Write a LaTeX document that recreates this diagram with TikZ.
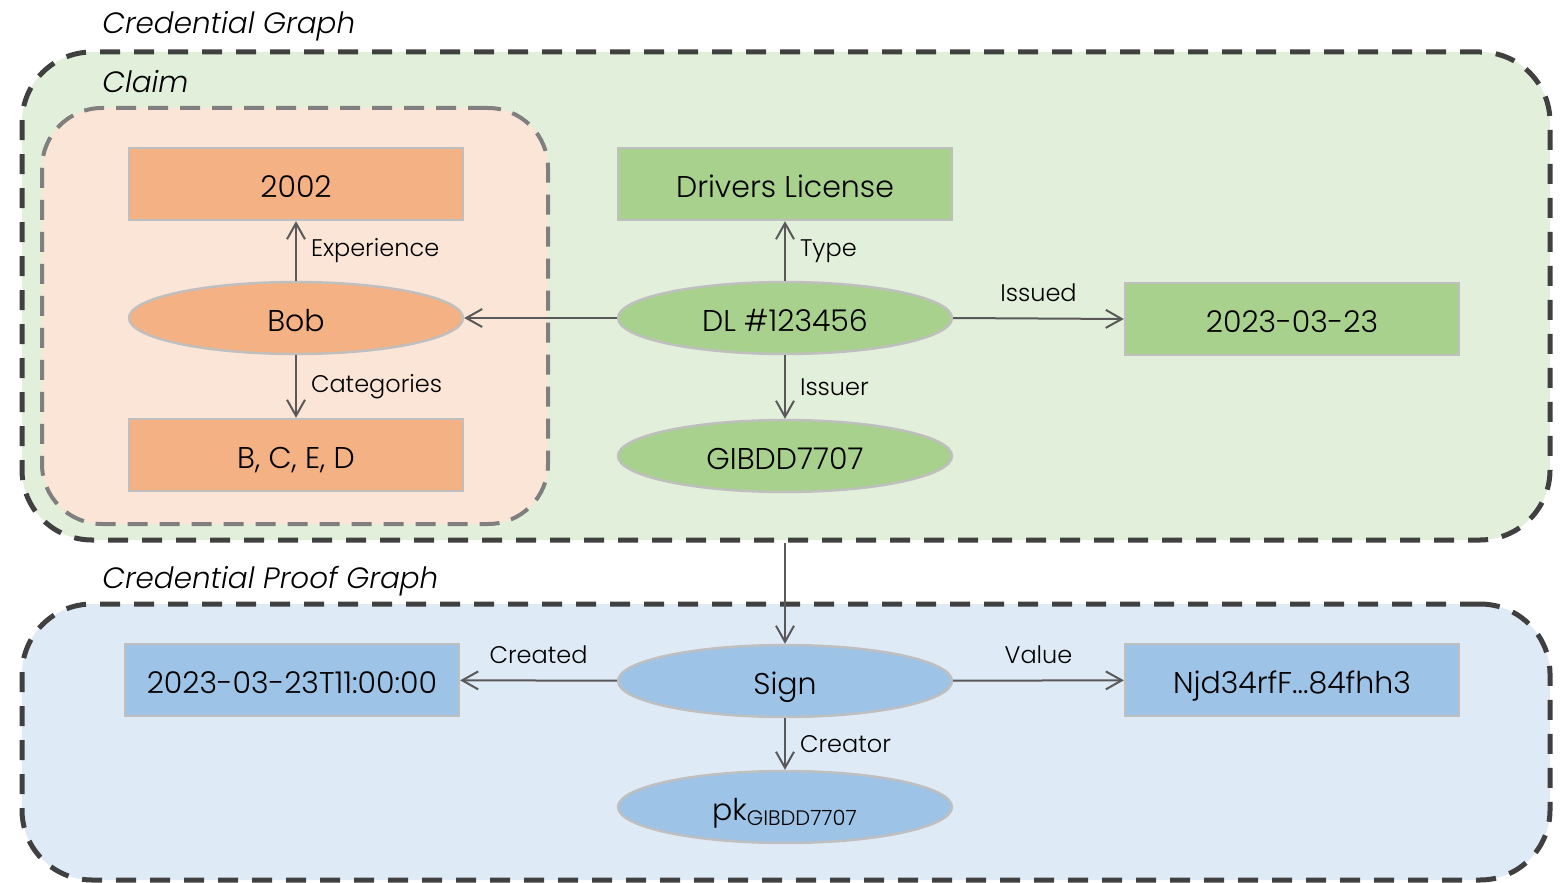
\documentclass[tikz,border=0pt]{standalone}
\usepackage{fontspec}
\setmainfont{Poppins}[UprightFont=* Light, ItalicFont=* Light Italic]
\usetikzlibrary{shapes.geometric,arrows.meta}

\definecolor{claimfill}{HTML}{E2EFDA}
\definecolor{subjfill}{HTML}{FBE5D6}
\definecolor{prooffill}{HTML}{DEEBF7}
\definecolor{orangenode}{HTML}{F4B183}
\definecolor{greennode}{HTML}{A9D18E}
\definecolor{bluenode}{HTML}{9DC3E6}
\definecolor{nodeborder}{HTML}{BFBFBF}
\definecolor{darkdash}{HTML}{404040}
\definecolor{lightdash}{HTML}{7F7F7F}
\definecolor{edgegray}{HTML}{595959}

\tikzset{
  region/.style={rectangle, draw=darkdash, line width=2.5pt, rounded corners=35pt,
    dash pattern=on 10pt off 7pt, inner sep=0pt},
  subregion/.style={rectangle, draw=lightdash, line width=2pt, rounded corners=30pt,
    dash pattern=on 10pt off 6pt, inner sep=0pt},
  nodetext/.style={inner sep=0pt, text height=13pt, text depth=0pt,
    font=\fontsize{15}{18}\selectfont},
  box/.style={rectangle, draw=nodeborder, line width=1.2pt, minimum width=167pt,
    minimum height=36pt, nodetext},
  oval/.style={ellipse, draw=nodeborder, line width=1.2pt, minimum width=167pt,
    minimum height=36pt, nodetext},
  edge/.style={draw=edgegray, line width=1pt, -{Straight Barb[length=8pt,width=9pt]}},
  lab/.style={font=\fontsize{12}{14}\selectfont, inner sep=2pt},
  title/.style={font=\itshape\fontsize{14.7}{17}\selectfont, anchor=west, inner sep=0pt,
    text height=10.3pt, text depth=0pt}
}

\begin{document}
\begin{tikzpicture}[x=0.5pt, y=-0.5pt]
\useasboundingbox (0,0) rectangle (1568,883);

% grouping regions
\node[region, fill=claimfill, minimum width=764pt, minimum height=244pt] (cg) at (786,296) {};
\node[subregion, fill=subjfill, minimum width=253pt, minimum height=208pt] (subj) at (295,316) {};
\node[region, fill=prooffill, minimum width=764pt, minimum height=138pt] (pg) at (786,742) {};

% titles
\node[title] (tcg) at (102,23) {Credential Graph};
\node[title] (tclaim) at (102,82) {Claim};
\node[title] (tpg) at (102,578) {Credential Proof Graph};

% claim nodes
\node[box, fill=orangenode] (exp) at (296,184) {2002};
\node[oval, fill=orangenode] (bob) at (296,318) {Bob};
\node[box, fill=orangenode] (cat) at (296,455) {B, C, E, D};
\node[box, fill=greennode] (type) at (785,184) {Drivers License};
\node[oval, fill=greennode] (dl) at (785,318) {DL \#123456};
\node[box, fill=greennode] (issued) at (1292,319) {2023-03-23};
\node[oval, fill=greennode] (issuer) at (785,456) {GIBDD7707};

% proof nodes
\node[oval, fill=bluenode] (sign) at (785,681) {Sign};
\node[oval, fill=bluenode] (pk) at (785,807) {pk\textsubscript{GIBDD7707}};
\node[box, fill=bluenode] (created) at (292,680) {2023-03-23T11:00:00};
\node[box, fill=bluenode] (value) at (1292,680) {Njd34rfF...84fhh3};

% connectors
\draw[edge] (bob) -- node[lab, right=5pt] {Experience} (exp);
\draw[edge] (bob) -- node[lab, right=5pt] {Categories} (cat);
\draw[edge] (dl) -- (bob);
\draw[edge] (dl) -- node[lab, right=5pt] {Type} (type);
\draw[edge] (dl.east) -- node[lab, above=6pt] {Issued} (issued.west);
\draw[edge] (dl) -- node[lab, right=5pt] {Issuer} (issuer);
\draw[edge] (sign |- cg.south) -- (sign);
\draw[edge] (sign) -- node[lab, above=6pt] {Created} (created);
\draw[edge] (sign) -- node[lab, above=6pt] {Value} (value);
\draw[edge] (sign) -- node[lab, right=5pt] {Creator} (pk);
\end{tikzpicture}
\end{document}
